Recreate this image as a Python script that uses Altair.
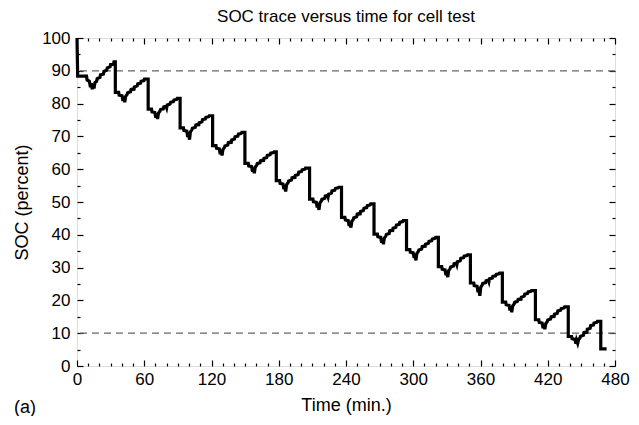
import altair as alt
import pandas as pd

# ---- data (time in min., SOC in percent) ----
TIME = [
    0, 0.6, 8.5, 9, 11, 12, 12.8, 13.6, 14.4, 15.2, 16, 17.5, 18, 20.5, 21, 23.5, 24, 26.5, 27, 29.5, 30, 32.5, 33, 34.2,
    34.2, 37.2, 37.6, 40.2, 41, 41.6, 42.6, 43.4, 44.7, 45.2, 47.7, 48.2, 50.2, 50.7, 51.2, 53.7, 54.2, 56.7, 57.2, 59.7, 60.2, 63.5,
    63.5, 66.5, 66.9, 69.5, 70.3, 70.9, 71.9, 72.7, 74, 74.5, 77, 77.5, 79.5, 80, 80.5, 83, 83.5, 86, 86.5, 89, 89.5, 92,
    92, 95, 95.4, 98, 98.8, 99.4, 100.4, 101.2, 102.5, 103, 105.5, 106, 108, 108.5, 109, 111.5, 112, 114.5, 115, 117.5, 118, 121,
    121, 124, 124.4, 127, 127.8, 128.4, 129.4, 130.2, 131.5, 132, 134.5, 135, 137, 137.5, 138, 140.5, 141, 143.5, 144, 146.5, 147, 149.8,
    149.8, 152.8, 153.2, 155.8, 156.6, 157.2, 158.2, 159, 160.3, 160.8, 163.3, 163.8, 165.8, 166.3, 166.8, 169.3, 169.8, 172.3, 172.8, 175.3, 175.8, 177.8,
    177.8, 180.8, 181.2, 183.8, 184.6, 185.2, 186.2, 187, 188.3, 188.8, 191.3, 191.8, 193.8, 194.3, 194.8, 197.3, 197.8, 200.3, 200.8, 203.3, 203.8, 207.5,
    207.5, 210.5, 210.9, 213.5, 214.3, 214.9, 215.9, 216.7, 218, 218.5, 221, 221.5, 223.5, 224, 224.5, 227, 227.5, 230, 230.5, 233, 233.5, 236,
    236, 239, 239.4, 242, 242.8, 243.4, 244.4, 245.2, 246.5, 247, 249.5, 250, 252, 252.5, 253, 255.5, 256, 258.5, 259, 261.5, 262, 265,
    265, 268, 268.4, 271, 271.8, 272.4, 273.4, 274.2, 275.5, 276, 278.5, 279, 281, 281.5, 282, 284.5, 285, 287.5, 288, 290.5, 291, 294,
    294, 297, 297.4, 300, 300.8, 301.4, 302.4, 303.2, 304.5, 305, 307.5, 308, 310, 310.5, 311, 313.5, 314, 316.5, 317, 319.5, 320, 322.4,
    322.4, 325.4, 325.8, 328.4, 329.2, 329.8, 330.8, 331.6, 332.9, 333.4, 335.9, 336.4, 338.4, 338.9, 339.4, 341.9, 342.4, 344.9, 345.4, 347.9, 348.4, 351,
    351, 354, 354.4, 357, 357.8, 358.4, 359.4, 360.2, 361.5, 362, 364.5, 365, 367, 367.5, 368, 370.5, 371, 373.5, 374, 376.5, 377, 379.5,
    379.5, 382.5, 382.9, 385.5, 386.3, 386.9, 387.9, 388.7, 390, 390.5, 393, 393.5, 395.5, 396, 396.5, 399, 399.5, 402, 402.5, 405, 405.5, 409,
    409, 412, 412.4, 415, 415.8, 416.4, 417.4, 418.2, 419.5, 420, 422.5, 423, 425, 425.5, 426, 428.5, 429, 431.5, 432, 434.5, 435, 438.3,
    438.3, 441.3, 441.7, 444.3, 445.1, 445.7, 446.7, 447.5, 448.8, 449.3, 451.8, 452.3, 454.3, 454.8, 455.3, 457.8, 458.3, 460.8, 461.3, 463.8, 464.3, 467.3,
    467.3, 472.5,
]
SOC = [
    100, 88.4, 88.4, 87.2, 86.8, 85.0, 86.2, 84.4, 86.0, 84.6, 86.4, 86.8, 87.6, 88.0, 88.8, 89.0, 89.8, 90.2, 90.9, 91.2, 91.9, 92.0, 92.7, 92.7,
    83.4, 83.4, 82.6, 82.4, 80.8, 82.1, 80.4, 82.2, 82.8, 83.3, 83.6, 84.3, 84.5, 84.0, 85.1, 85.4, 86.0, 86.2, 86.8, 87.0, 87.5, 87.5,
    78.3, 78.3, 77.5, 77.3, 75.7, 77.0, 75.3, 77.1, 77.7, 78.2, 78.4, 79.0, 79.2, 78.7, 79.6, 79.9, 80.4, 80.6, 81.1, 81.3, 81.6, 81.6,
    72.6, 72.6, 71.8, 71.6, 69.8, 71.3, 69.0, 71.4, 72.0, 72.5, 72.8, 73.5, 73.7, 73.2, 74.2, 74.5, 75.1, 75.3, 75.8, 76.0, 76.3, 76.3,
    67.2, 67.2, 66.4, 66.2, 64.6, 65.9, 64.2, 66.0, 66.6, 67.1, 67.4, 68.1, 68.3, 67.8, 68.9, 69.2, 69.9, 70.1, 70.7, 70.9, 71.2, 71.2,
    61.8, 61.8, 61.0, 60.8, 59.2, 60.5, 58.8, 60.6, 61.2, 61.7, 62.0, 62.6, 62.8, 62.3, 63.3, 63.6, 64.2, 64.4, 64.9, 65.1, 65.3, 65.3,
    56.5, 56.5, 55.7, 55.5, 53.9, 55.2, 53.2, 55.3, 55.9, 56.4, 56.7, 57.4, 57.6, 57.1, 58.1, 58.4, 59.1, 59.3, 59.8, 60.0, 60.3, 60.3,
    50.9, 50.9, 50.1, 49.9, 48.3, 49.6, 47.6, 49.7, 50.3, 50.8, 51.1, 51.8, 52.0, 51.5, 52.4, 52.7, 53.4, 53.6, 54.1, 54.3, 54.5, 54.5,
    45.3, 45.3, 44.5, 44.3, 42.7, 44.0, 42.2, 44.1, 44.7, 45.2, 45.5, 46.3, 46.5, 46.0, 47.1, 47.4, 48.1, 48.3, 48.9, 49.1, 49.4, 49.4,
    40.2, 40.2, 39.4, 39.2, 37.6, 38.9, 37.1, 39.0, 39.6, 40.1, 40.4, 41.2, 41.4, 40.9, 42.0, 42.3, 43.0, 43.2, 43.8, 44.0, 44.3, 44.3,
    35.5, 35.5, 34.7, 34.5, 32.9, 34.2, 32.2, 34.3, 34.9, 35.4, 35.7, 36.4, 36.6, 36.1, 37.1, 37.4, 38.0, 38.2, 38.7, 38.9, 39.2, 39.2,
    30.3, 30.3, 29.5, 29.3, 27.7, 29.0, 27.1, 29.1, 29.7, 30.2, 30.5, 31.2, 31.4, 30.9, 31.8, 32.1, 32.8, 33.0, 33.5, 33.7, 33.9, 33.9,
    25.3, 25.3, 24.5, 24.3, 22.5, 23.9, 21.4, 24.0, 24.7, 25.2, 25.4, 26.0, 26.2, 25.7, 26.6, 26.8, 27.3, 27.5, 27.9, 28.1, 28.3, 28.3,
    19.5, 19.5, 18.7, 18.5, 16.9, 18.2, 16.4, 18.3, 18.9, 19.4, 19.7, 20.3, 20.5, 20.0, 21.0, 21.3, 21.9, 22.1, 22.6, 22.8, 23.0, 23.0,
    14.1, 14.1, 13.3, 13.1, 11.5, 12.8, 11.2, 12.9, 13.5, 14.0, 14.3, 15.0, 15.2, 14.7, 15.8, 16.1, 16.8, 17.0, 17.5, 17.7, 18.0, 18.0,
    9.0, 9.0, 8.3, 8.1, 6.8, 7.9, 6.9, 8.0, 8.6, 9.1, 9.4, 10.2, 10.4, 9.9, 11.2, 11.5, 12.3, 12.5, 13.1, 13.3, 13.6, 13.6,
    5.2, 5.2,
]
LIMITS = [10, 90]
X_LABEL_TICKS = [0, 60, 120, 180, 240, 300, 360, 420, 480]
Y_LABEL_TICKS = [0, 10, 20, 30, 40, 50, 60, 70, 80, 90, 100]
X_TICKS = list(range(0, 481, 10))
Y_TICKS = list(range(0, 101, 5))

W, H = 538, 328
FONT = "Liberation Sans"

df = pd.DataFrame({"t": TIME, "soc": SOC, "i": range(len(TIME))})
lim_df = pd.DataFrame({"y": LIMITS})

xs = alt.Scale(domain=[0, 480], nice=False, zero=False)
ys = alt.Scale(domain=[0, 100], nice=False, zero=False)

def tick_axis(orient, offset, values, major_mod):
    return alt.Axis(
        orient=orient, offset=offset, values=values, labels=False, domain=False,
        grid=False, title="", tickColor="black", tickWidth=1.2,
        tickSize={"condition": {"test": f"datum.value % {major_mod} === 0", "value": 6}, "value": 3},
    )

rules = alt.Chart(lim_df).mark_rule(color="#666666", strokeDash=[7, 5], strokeWidth=1.2).encode(
    y=alt.Y("y:Q", scale=ys, axis=None)
)

line = alt.Chart(df).mark_line(color="black", strokeWidth=3.2, strokeJoin="miter").encode(
    x=alt.X("t:Q", scale=xs, axis=alt.Axis(
        orient="bottom", values=X_LABEL_TICKS, ticks=False, domain=False, grid=False,
        title="Time (min.)", labelFontSize=17, titleFontSize=18, labelPadding=5, titlePadding=9,
        labelFlush=False, labelOverlap=False, labelColor="black", titleColor="black",
        titleFontWeight="normal", labelFont=FONT, titleFont=FONT)),
    y=alt.Y("soc:Q", scale=ys, axis=alt.Axis(
        orient="left", values=Y_LABEL_TICKS, ticks=False, domain=False, grid=False,
        title="SOC (percent)", labelFontSize=17, titleFontSize=18, labelPadding=7, titlePadding=10,
        labelOverlap=False, labelColor="black", titleColor="black",
        titleFontWeight="normal", labelFont=FONT, titleFont=FONT)),
    order=alt.Order("i:Q"),
)

ticks_a = alt.Chart(df).mark_point(opacity=0).encode(
    x=alt.X("t:Q", scale=xs, axis=tick_axis("top", -H, X_TICKS, 60)),
    y=alt.Y("soc:Q", scale=ys, axis=tick_axis("right", -W, Y_TICKS, 10)),
)
ticks_b = alt.Chart(df).mark_point(opacity=0).encode(
    x=alt.X("t:Q", scale=xs, axis=tick_axis("bottom", -H, X_TICKS, 60)),
    y=alt.Y("soc:Q", scale=ys, axis=tick_axis("left", -W, Y_TICKS, 10)),
)

panel = alt.Chart(pd.DataFrame({"label": ["(a)"]})).mark_text(
    align="left", baseline="middle", fontSize=18, font=FONT, color="black"
).encode(x=alt.value(-63), y=alt.value(370), text="label:N")

chart = alt.layer(rules, line, ticks_a, ticks_b, panel).resolve_axis(
    x="independent", y="independent"
).properties(
    width=W, height=H,
    title=alt.TitleParams("SOC trace versus time for cell test", fontSize=17, font=FONT,
                          fontWeight="normal", color="black", offset=3, anchor="middle"),
    autosize=alt.AutoSizeParams(type="none"),
    padding={"left": 69, "top": 30, "right": 16, "bottom": 50},
).configure_view(stroke="black", strokeWidth=1.5).configure(font=FONT, background="white")

chart.save("out.html", embed_options={"renderer": "svg", "actions": False})
